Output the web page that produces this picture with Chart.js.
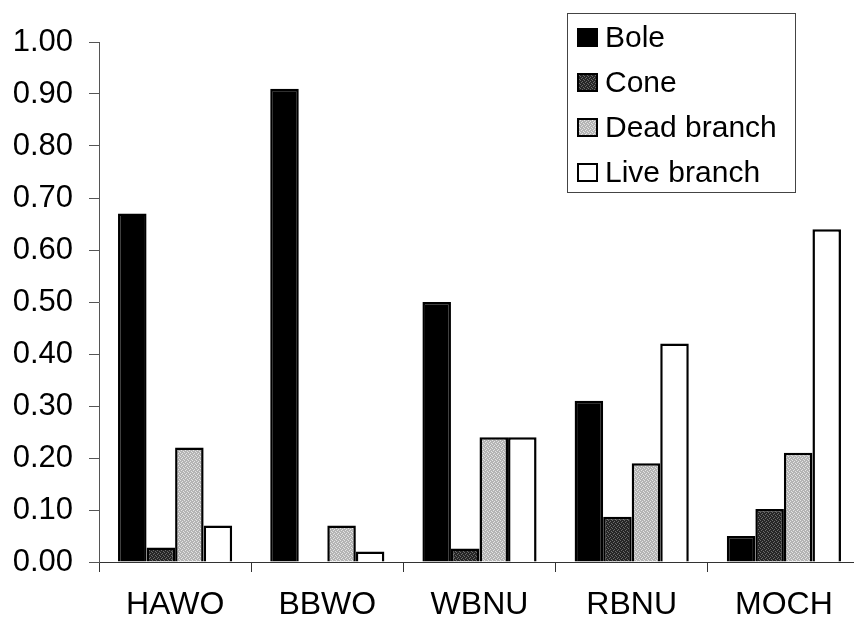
<!DOCTYPE html>
<html>
<head>
<meta charset="utf-8">
<script src="https://cdn.jsdelivr.net/npm/chart.js@4"></script>
<style>
html,body{margin:0;padding:0;background:#fff;overflow:hidden;}
#wrap{width:862px;height:622px;}
</style>
</head>
<body>
<div id="wrap"><canvas id="c" width="862" height="622"></canvas></div>
<script>
const categories = ['HAWO', 'BBWO', 'WBNU', 'RBNU', 'MOCH'];
const seriesNames = ['Bole', 'Cone', 'Dead branch', 'Live branch'];
const bole = [0.67, 0.91, 0.50, 0.31, 0.05];
const cone = [0.028, 0, 0.026, 0.087, 0.102];
const deadBranch = [0.22, 0.07, 0.24, 0.19, 0.21];
const liveBranch = [0.07, 0.02, 0.24, 0.42, 0.64];
const yMin = 0, yMax = 1.0, yStep = 0.1;

function stipple(base, dot) {
  const p = document.createElement('canvas');
  p.width = 4; p.height = 4;
  const g = p.getContext('2d');
  g.fillStyle = base; g.fillRect(0, 0, 4, 4);
  g.fillStyle = dot;
  g.fillRect(0, 0, 1, 1); g.fillRect(2, 1, 1, 1); g.fillRect(1, 2, 1, 1); g.fillRect(3, 3, 1, 1);
  return g.createPattern(p, 'repeat');
}
const ctx0 = document.getElementById('c').getContext('2d');
const fills = ['#000000', stipple('#262626', '#6a6a6a'), stipple('#b4b4b4', '#e4e4e4'), '#ffffff'];
const seriesData = [bole, cone, deadBranch, liveBranch];
const FONT = '"Liberation Sans", Arial, sans-serif';

const legendBox = {
  id: 'legendBox',
  afterDraw(chart) {
    const ctx = chart.ctx;
    ctx.save();
    ctx.strokeStyle = '#444';
    ctx.lineWidth = 1;
    ctx.strokeRect(567.5, 13.5, 228, 179);
    ctx.font = '30px ' + FONT;
    ctx.textBaseline = 'middle';
    chart.data.datasets.forEach((ds, i) => {
      const cy = 37.5 + i * 45;
      ctx.fillStyle = ds.backgroundColor;
      ctx.fillRect(577, cy - 9.5, 21, 19);
      ctx.strokeStyle = '#000';
      ctx.lineWidth = 2;
      ctx.strokeRect(578, cy - 8.5, 19, 17);
      ctx.fillStyle = '#000';
      ctx.fillText(ds.label, 605, cy + 1);
    });
    ctx.restore();
  }
};

new Chart(ctx0, {
  type: 'bar',
  data: {
    labels: categories,
    datasets: seriesNames.map((n, i) => ({
      label: n,
      data: seriesData[i],
      backgroundColor: fills[i],
      borderColor: '#000',
      borderWidth: 2.5,
      borderSkipped: 'start',
      barPercentage: 1.0,
      categoryPercentage: 0.75
    }))
  },
  options: {
    responsive: false,
    animation: false,
    devicePixelRatio: 1,
    layout: { padding: { top: 42, right: 2, left: 0, bottom: 0 } },
    plugins: { legend: { display: false }, tooltip: { enabled: false } },
    scales: {
      x: {
        grid: { display: true, drawOnChartArea: false, drawTicks: true, tickLength: 10, color: '#333', offset: true },
        border: { display: true, color: '#333', width: 1 },
        ticks: { color: '#000', font: { family: FONT, size: 32 }, padding: 14 },
        afterFit(s) { s.height = 60; }
      },
      y: {
        min: yMin, max: yMax,
        grid: { display: true, drawOnChartArea: false, drawTicks: true, tickLength: 10, color: '#555' },
        border: { display: true, color: '#555', width: 1 },
        ticks: {
          stepSize: yStep,
          color: '#000',
          font: { family: FONT, size: 31 },
          padding: 16,
          callback: v => Number(v).toFixed(2)
        },
        afterFit(s) { s.width = 99; }
      }
    }
  },
  plugins: [legendBox]
});
</script>
</body>
</html>
